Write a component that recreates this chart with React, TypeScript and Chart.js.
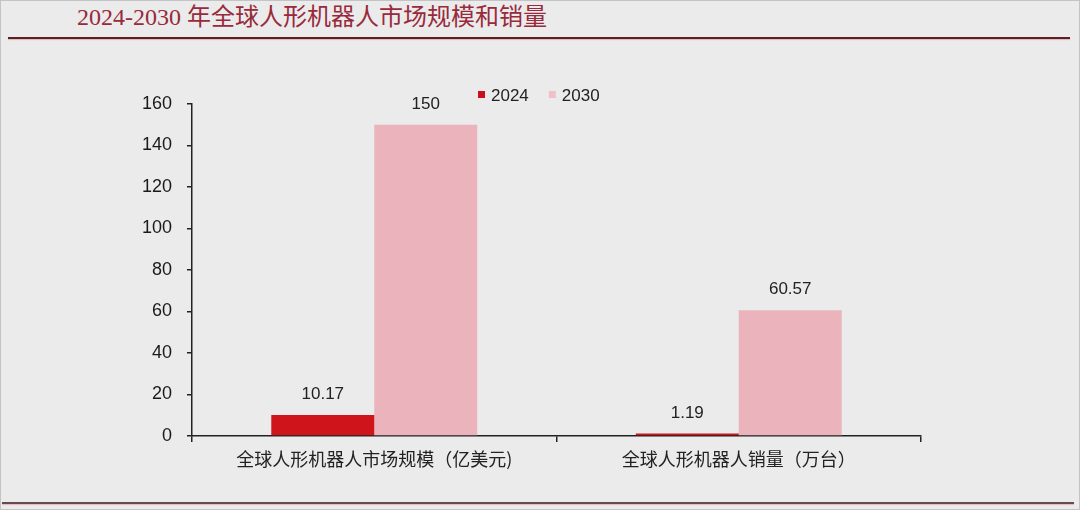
import React, { useEffect, useRef } from "react";
import { Chart, registerables } from "chart.js";

Chart.register(...registerables);

const categories = ["全球人形机器人市场规模（亿美元)", "全球人形机器人销量（万台）"];
const seriesNames = ["2024", "2030"];
const values2024 = [10.17, 1.19];
const values2030 = [150, 60.57];
const yTicks = [0, 20, 40, 60, 80, 100, 120, 140, 160];

const titleText = "2024-2030 年全球人形机器人市场规模和销量";

const RED = "#d0141c";
const PINK = "#ebb4bd";
const LATIN = '"Liberation Sans", Arial, sans-serif';
const CJK = '"Noto Sans CJK SC", "Noto Sans", sans-serif';

const valueLabelPlugin = {
  id: "valueLabels",
  afterDatasetsDraw(chart: any) {
    const ctx = chart.ctx;
    ctx.save();
    ctx.font = `17px ${LATIN}`;
    ctx.fillStyle = "#222";
    ctx.textAlign = "center";
    ctx.textBaseline = "alphabetic";
    chart.data.datasets.forEach((ds: any, di: number) => {
      const meta = chart.getDatasetMeta(di);
      meta.data.forEach((el: any, i: number) => {
        ctx.fillText(String(ds.data[i]), el.x, el.y - 16);
      });
    });
    ctx.restore();
  },
};

const legendPlugin = {
  id: "customLegend",
  afterDraw(chart: any) {
    const ctx = chart.ctx;
    ctx.save();
    ctx.font = `17px ${LATIN}`;
    ctx.textBaseline = "middle";
    ctx.textAlign = "left";
    let x = 478;
    const y = 95;
    chart.data.datasets.forEach((ds: any) => {
      ctx.fillStyle = ds.legendColor || ds.backgroundColor;
      ctx.fillRect(x, y - 4, 7, 7);
      x += 7 + 6;
      ctx.fillStyle = "#222";
      ctx.fillText(ds.label, x, y + 1);
      x += ctx.measureText(ds.label).width + 20;
    });
    ctx.restore();
  },
};

export default function App() {
  const ref = useRef<HTMLCanvasElement | null>(null);

  useEffect(() => {
    if (!ref.current) return;
    const chart = new Chart(ref.current, {
      type: "bar",
      data: {
        labels: categories,
        datasets: [
          {
            label: seriesNames[0],
            data: values2024,
            backgroundColor: RED,
            legendColor: "#c8101e",
            borderWidth: 0,
            barPercentage: 1,
            categoryPercentage: 0.565,
          } as any,
          {
            label: seriesNames[1],
            data: values2030,
            backgroundColor: PINK,
            legendColor: "#f0bfc8",
            borderWidth: 0,
            barPercentage: 1,
            categoryPercentage: 0.565,
          } as any,
        ],
      },
      options: {
        animation: false,
        responsive: false,
        devicePixelRatio: 1,
        layout: { padding: { left: 0, right: 159, top: 104, bottom: 0 } },
        plugins: {
          legend: { display: false },
          tooltip: { enabled: false },
          title: { display: false },
        },
        scales: {
          x: {
            grid: {
              display: true,
              drawOnChartArea: false,
              drawTicks: true,
              tickLength: 6,
              color: "#222",
              lineWidth: 1.5,
              offset: true,
            },
            border: { display: true, color: "#222", width: 1.5 },
            ticks: {
              color: "#222",
              font: { family: CJK, size: 18 },
              padding: 6,
              maxRotation: 0,
              autoSkip: false,
            },
            afterFit(scale: any) {
              scale.height = 74;
            },
          },
          y: {
            min: 0,
            max: 160,
            afterBuildTicks(scale: any) {
              scale.ticks = yTicks.map((v) => ({ value: v }));
            },
            grid: {
              display: true,
              drawOnChartArea: false,
              drawTicks: true,
              tickLength: 5,
              color: "#222",
              lineWidth: 1.5,
            },
            border: { display: true, color: "#222", width: 1.5 },
            ticks: {
              color: "#1a1a1a",
              font: { family: LATIN, size: 18 },
              padding: 15,
            },
            afterFit(scale: any) {
              scale.width = 192;
            },
          },
        },
      },
      plugins: [valueLabelPlugin, legendPlugin],
    } as any);
    return () => chart.destroy();
  }, []);

  return (
    <div
      style={{
        position: "fixed",
        left: 0,
        top: 0,
        width: 1080,
        height: 510,
        background: "#ebebeb",
        boxShadow: "inset 0 0 0 1px #c4c4c4",
        overflow: "hidden",
      }}
    >
      <div
        style={{
          position: "absolute",
          left: 77,
          top: 3,
          fontSize: 24,
          lineHeight: "28px",
          fontFamily: '"Liberation Serif", "Noto Sans CJK SC", serif',
          color: "#982a3c",
          whiteSpace: "nowrap",
        }}
      >
        {titleText}
      </div>
      <div
        style={{
          position: "absolute",
          left: 8,
          top: 37,
          width: 1062,
          height: 2,
          background: "#5a2028",
          boxShadow: "0 1px 1px rgba(220,120,130,0.5)",
        }}
      />
      <canvas
        ref={ref}
        width={1080}
        height={510}
        style={{ position: "absolute", left: 0, top: 0 }}
      />
      <div
        style={{
          position: "absolute",
          left: 2,
          top: 502,
          width: 1072,
          height: 2,
          background: "#6a4a52",
          boxShadow: "0 1px 1px rgba(220,150,160,0.6)",
        }}
      />
    </div>
  );
}
